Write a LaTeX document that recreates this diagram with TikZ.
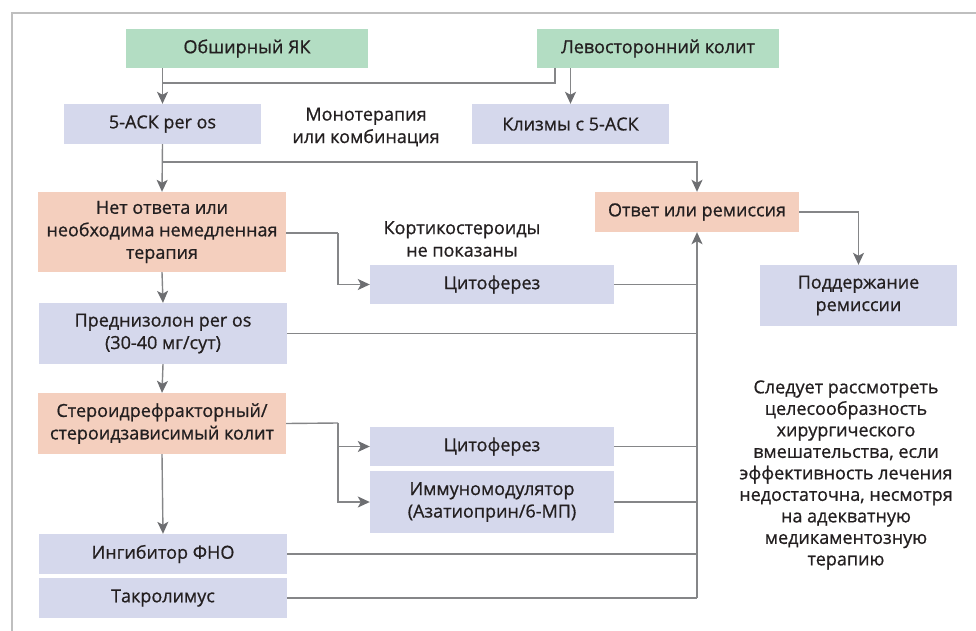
\documentclass[tikz,border=0pt]{standalone}
\usepackage{fontspec}
\setmainfont{Open Sans}[BoldFont={Open Sans},BoldFeatures={FakeBold=0.8}]
\usetikzlibrary{arrows.meta}
\definecolor{gbox}{HTML}{B3DDC3}
\definecolor{lbox}{HTML}{D5D8EC}
\definecolor{sbox}{HTML}{F4CFBE}
\definecolor{ln}{HTML}{858688}
\definecolor{tip}{HTML}{6D6E71}
\definecolor{txt}{HTML}{231F20}
\begin{document}
\begin{tikzpicture}[x=1pt,y=-1pt,
  every node/.style={text=txt,font=\fontsize{18}{22.5}\selectfont\bfseries,align=center,inner sep=0pt},
  box/.style={rectangle,draw=none},
  conn/.style={draw=ln,line width=1.4pt},
  arr/.style={conn,-{Stealth[length=12pt,width=11pt,inset=3pt,color=tip]}}]
\useasboundingbox (0,0) rectangle (976,631);
\draw[draw=black!25,line width=1.5pt] (976,13) -- (12,13) -- (12,631);
% boxes
\node[box,fill=gbox,minimum width=242pt,minimum height=39pt] (ob) at (247,48.5) {Обширный ЯК};
\node[box,fill=gbox,minimum width=242pt,minimum height=39pt] (lev) at (658,48.5) {Левосторонний колит};
\node[box,fill=lbox,minimum width=197pt,minimum height=40pt] (ask) at (162.5,124) {5-АСК per os};
\node[box,fill=lbox,minimum width=197pt,minimum height=40pt] (kl) at (570.5,124) {Клизмы с 5-АСК};
\node[box,fill=sbox,minimum width=248pt,minimum height=80pt] (net) at (162,232) {Нет ответа или\\необходима немедленная\\терапия};
\node[box,fill=sbox,minimum width=204pt,minimum height=40pt] (otv) at (697,212) {Ответ или ремиссия};
\node[box,fill=lbox,minimum width=244pt,minimum height=39pt] (cyt1) at (492,284.5) {Цитоферез};
\node[box,fill=lbox,minimum width=197pt,minimum height=61pt] (podd) at (858.5,295.5) {Поддержание\\ремиссии};
\node[box,fill=lbox,minimum width=248pt,minimum height=61pt] (pred) at (163,333.5) {Преднизолон per os\\(30-40 мг/сут)};
\node[box,fill=sbox,minimum width=248pt,minimum height=61pt] (ster) at (162,423.5) {Стероидрефракторный/\\стероидзависимый колит};
\node[box,fill=lbox,minimum width=244pt,minimum height=39pt] (cyt2) at (492,446.5) {Цитоферез};
\node[box,fill=lbox,minimum width=244pt,minimum height=62pt] (imm) at (492,502) {Иммуномодулятор\\(Азатиоприн/6-МП)};
\node[box,fill=lbox,minimum width=248pt,minimum height=40pt] (ing) at (163,554) {Ингибитор ФНО};
\node[box,fill=lbox,minimum width=248pt,minimum height=40pt] (tak) at (163,598) {Такролимус};
% labels
\node (mono) at (366,127) {Монотерапия\\или комбинация};
\node (kort) at (462,239) {Кортикостероиды\\не показаны};
\node[font=\fontsize{18}{21.5}\selectfont\bfseries] (note) at (846,475) {Следует рассмотреть\\целесообразность\\хирургического\\вмешательства, если\\эффективность лечения\\недостаточна, несмотря\\на адекватную\\медикаментозную\\терапию};
% coordinates
\coordinate (j1) at (162,83);
\coordinate (l1) at (555,68);
\coordinate (j2) at (162,162);
\coordinate (b1) at (338,233);
\coordinate (b2) at (338,423);
\coordinate (vb) at (697,598);
% connectors
\draw[arr] (ask.north |- ob.south) -- (ask.north);
\draw[conn] (l1) |- (j1);
\draw[arr] (kl.north |- lev.south) -- (kl.north);
\draw[arr] (ask.south) -- (net.north);
\draw[arr] (j2) -| (otv.north);
\draw[conn] (net.east |- b1) -- (b1);
\draw[arr] (b1) |- (cyt1.west);
\draw[arr] (vb) -- (otv.south);
\draw[conn] (cyt1.east) -- (cyt1.east -| otv.south);
\draw[conn] (pred.east) -- (pred.east -| otv.south);
\draw[arr] (net.south) -- (pred.north);
\draw[arr] (pred.south) -- (ster.north);
\draw[conn] (ster.east) -- (b2);
\draw[arr] (b2) |- (cyt2.west);
\draw[arr] (b2) |- (imm.west);
\draw[conn] (cyt2.east) -- (cyt2.east -| otv.south);
\draw[conn] (imm.east) -- (imm.east -| otv.south);
\draw[arr] (ster.south) -- (ing.north);
\draw[conn] (ing.east) -- (ing.east -| otv.south);
\draw[conn] (tak.east) -- (vb);
\draw[arr] (otv.east) -| (podd.north);
\end{tikzpicture}
\end{document}
